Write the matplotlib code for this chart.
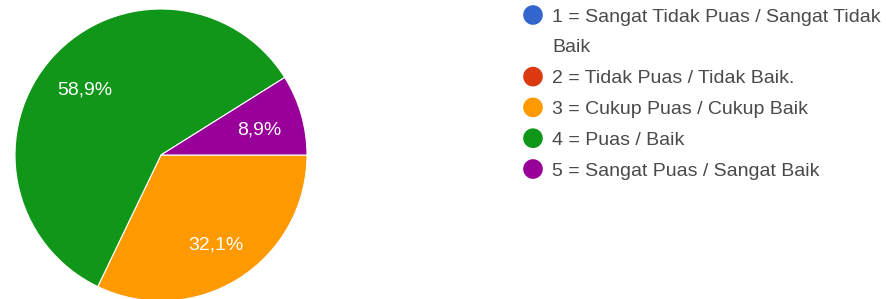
import matplotlib.pyplot as plt

plt.rcParams['font.family'] = ['Liberation Sans', 'DejaVu Sans']

# data
categories = ["1 = Sangat Tidak Puas / Sangat Tidak\nBaik",
              "2 = Tidak Puas / Tidak Baik.",
              "3 = Cukup Puas / Cukup Baik",
              "4 = Puas / Baik",
              "5 = Sangat Puas / Sangat Baik"]
values = [0.0, 0.0, 32.1, 58.9, 8.9]
colors = ["#3366cc", "#dc3912", "#ff9900", "#109618", "#990099"]

W, H = 886, 299
fig = plt.figure(figsize=(W / 100, H / 100), dpi=100)

# pie axes: centre (161,155) px, radius 146 px
cx, cy, r = 161, 155, 146
ax = fig.add_axes([(cx - r) / W, (H - cy - r) / H, 2 * r / W, 2 * r / H])
total = sum(values)


def fmt(pct):
    v = pct * total / 100
    if v < 0.05:
        return ""
    return f"{v:.1f}%".replace(".", ",")


wedges, texts, autotexts = ax.pie(
    values, colors=colors, startangle=0, counterclock=False,
    autopct=fmt, pctdistance=0.7, radius=1,
    wedgeprops=dict(edgecolor="white", linewidth=0.8),
    textprops=dict(color="white", fontsize=14))
# nudge percentage labels down a few pixels
for t in autotexts:
    x, y = t.get_position()
    t.set_position((x, y - 0.022))
ax.set_xlim(-1, 1)
ax.set_ylim(-1, 1)
ax.set_aspect("equal")
ax.axis("off")

# legend drawn in pixel space
lg = fig.add_axes([0, 0, 1, 1])
lg.set_xlim(0, W)
lg.set_ylim(H, 0)
lg.axis("off")
row = 0
for lab, col in zip(categories, colors):
    y = 15 + 30.8 * row
    lg.scatter([533], [y], s=200, color=col, edgecolors="none")
    for line in lab.split("\n"):
        y = 15 + 30.8 * row
        lg.text(552, y, line, fontsize=14, color="#4a4a4a",
                va="center_baseline", ha="left")
        row += 1

fig.savefig("out.png", dpi=100)
